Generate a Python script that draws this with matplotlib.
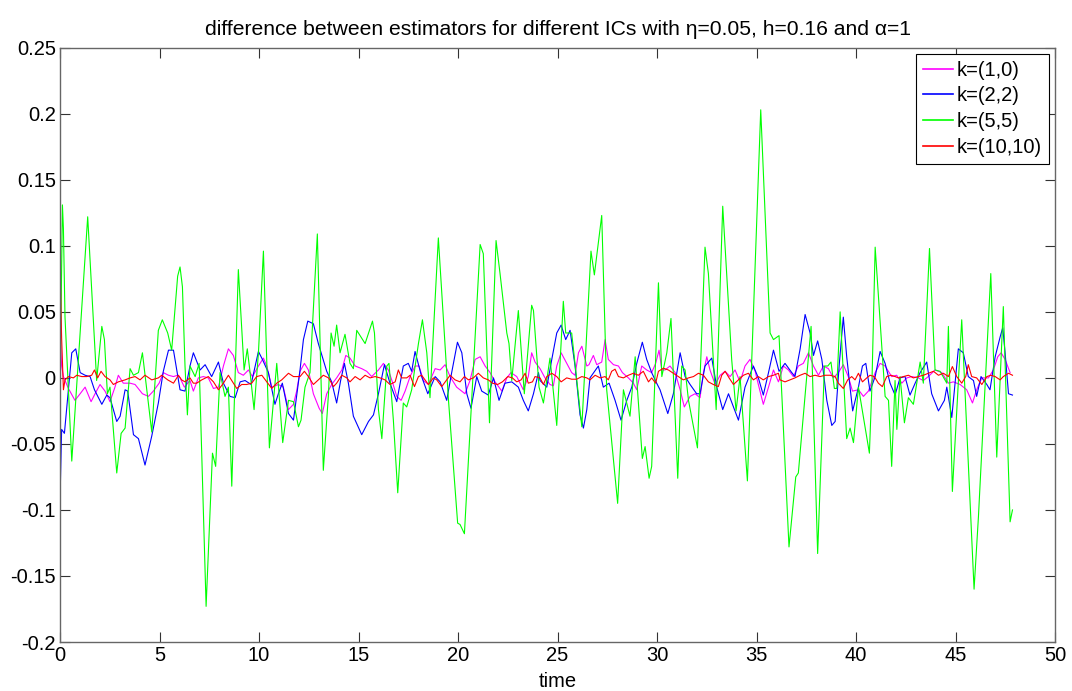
import matplotlib
matplotlib.use("Agg")
import matplotlib.pyplot as plt
from matplotlib.ticker import FixedLocator, FuncFormatter

plt.rcParams['font.family'] = ['Liberation Sans', 'DejaVu Sans']

# (time, difference) samples for each initial condition
k10_pts = [(0.0, 0.035), (0.08, 0.009), (0.17, 0.001), (0.42, -0.008), (0.75, -0.017), (1.01, -0.012),
           (1.26, -0.007), (1.56, -0.018), (1.76, -0.012), (2.01, -0.005), (2.26, -0.010), (2.51, -0.018),
           (2.76, -0.007), (2.93, 0.002), (3.18, -0.004), (3.52, -0.004), (3.77, -0.005), (4.14, -0.012),
           (4.44, -0.014), (4.69, -0.010), (4.98, -0.004), (5.19, 0.004), (5.45, 0.002), (5.70, 0.001),
           (5.91, 0.002), (6.03, 0.000), (6.25, -0.007), (6.53, -0.002), (6.70, -0.010), (6.95, 0.000),
           (7.20, 0.001), (7.45, 0.000), (7.71, -0.008), (7.96, -0.007), (8.21, 0.009), (8.46, 0.022),
           (8.71, 0.017), (8.96, 0.004), (9.21, 0.002), (9.47, 0.006), (9.67, 0.001), (9.97, 0.009),
           (10.22, 0.015), (10.39, 0.009), (10.64, -0.007), (10.97, -0.005), (11.22, -0.007), (11.48, -0.024),
           (11.73, -0.020), (11.89, -0.010), (12.06, 0.005), (12.28, 0.011), (12.48, 0.006), (12.73, -0.012),
           (13.02, -0.023), (13.18, -0.027), (13.40, -0.012), (13.65, -0.005), (13.90, 0.000), (14.16, 0.006),
           (14.36, 0.017), (14.57, 0.015), (14.83, 0.009), (15.16, 0.007), (15.41, 0.005), (15.66, 0.001),
           (16.00, 0.006), (16.25, 0.011), (16.50, 0.006), (16.72, -0.004), (16.92, -0.014), (17.14, -0.017),
           (17.34, -0.010), (17.59, 0.001), (17.84, 0.009), (18.04, 0.009), (18.26, -0.002), (18.51, -0.005),
           (18.85, 0.007), (19.10, 0.006), (19.35, 0.010), (19.60, 0.001), (19.93, -0.007), (20.35, -0.012),
           (20.60, -0.002), (20.86, 0.014), (21.11, 0.016), (21.36, 0.009), (21.61, 0.004), (21.86, -0.003),
           (22.20, -0.010), (22.45, 0.000), (22.66, 0.004), (22.95, 0.001), (23.28, -0.009), (23.53, 0.001),
           (23.70, 0.019), (23.87, 0.012), (24.12, 0.007), (24.37, 0.000), (24.62, -0.005), (24.79, -0.006),
           (24.96, 0.009), (25.18, 0.019), (25.46, 0.011), (25.71, 0.004), (25.88, 0.002), (26.05, 0.019),
           (26.22, 0.024), (26.47, 0.009), (26.58, 0.010), (26.80, 0.017), (26.97, 0.010), (27.22, 0.012),
           (27.39, 0.029), (27.55, 0.014), (27.81, 0.010), (28.06, 0.009), (28.26, 0.004), (28.56, 0.000),
           (28.81, -0.004), (28.98, -0.009), (29.23, 0.009), (29.48, 0.006), (29.73, 0.004), (29.93, 0.011),
           (30.10, 0.021), (30.24, 0.006), (30.40, 0.006), (30.65, 0.009), (30.91, 0.004), (31.16, -0.009),
           (31.37, -0.022), (31.66, -0.014), (31.91, -0.012), (32.16, -0.015), (32.33, 0.004), (32.50, 0.016),
           (32.66, 0.006), (32.92, -0.005), (33.17, 0.002), (33.42, 0.005), (33.67, 0.001), (33.92, 0.006),
           (34.17, -0.003), (34.42, 0.009), (34.67, 0.014), (34.93, 0.005), (35.09, -0.005), (35.34, -0.020),
           (35.60, -0.007), (35.85, 0.006), (36.10, -0.003), (36.35, 0.009), (36.60, 0.006), (36.85, 0.001),
           (37.10, 0.009), (37.35, 0.011), (37.61, 0.019), (37.86, 0.009), (38.11, 0.002), (38.36, 0.009),
           (38.61, 0.007), (38.86, 0.000), (39.11, 0.004), (39.36, 0.010), (39.61, 0.001), (39.82, -0.010),
           (40.12, -0.009), (40.37, -0.014), (40.62, -0.010), (40.96, 0.004), (41.21, 0.011), (41.46, 0.009),
           (41.79, 0.001), (42.04, 0.002), (42.30, -0.004), (42.55, 0.000), (42.80, 0.001), (43.13, 0.000),
           (43.38, -0.002), (43.63, 0.001), (43.97, 0.006), (44.31, 0.004), (44.64, -0.004), (44.89, -0.003),
           (45.23, -0.005), (45.56, -0.009), (45.85, -0.019), (46.06, -0.009), (46.32, 0.000), (46.65, 0.000),
           (46.90, 0.006), (47.12, 0.016), (47.29, 0.019), (47.49, 0.014), (47.74, 0.004)]

k22_pts = [(0.0, -0.092), (0.08, -0.039), (0.22, -0.042), (0.42, -0.009), (0.59, 0.019), (0.79, 0.022),
           (1.01, 0.004), (1.26, 0.002), (1.51, 0.001), (1.73, -0.009), (2.10, -0.020), (2.35, -0.013),
           (2.51, -0.015), (2.85, -0.033), (3.02, -0.029), (3.27, -0.009), (3.40, -0.010), (3.69, -0.043),
           (3.94, -0.046), (4.27, -0.066), (4.61, -0.044), (4.94, -0.019), (5.19, 0.005), (5.45, 0.021),
           (5.70, 0.021), (6.03, -0.009), (6.28, -0.010), (6.53, 0.009), (6.70, 0.019), (7.04, 0.006),
           (7.29, 0.010), (7.62, 0.001), (7.96, 0.012), (8.21, -0.004), (8.54, -0.014), (8.80, -0.015),
           (9.05, -0.003), (9.30, -0.002), (9.60, -0.005), (9.97, 0.020), (10.17, 0.014), (10.47, 0.004),
           (10.80, -0.020), (10.97, -0.012), (11.17, -0.004), (11.48, -0.027), (11.73, -0.032), (12.06, 0.006),
           (12.23, 0.029), (12.45, 0.043), (12.73, 0.041), (12.98, 0.026), (13.40, 0.005), (13.65, -0.003),
           (13.90, -0.019), (14.10, -0.002), (14.29, 0.011), (14.49, -0.004), (14.74, -0.029), (15.16, -0.043),
           (15.50, -0.033), (15.75, -0.028), (16.00, -0.012), (16.30, 0.010), (16.58, -0.004), (16.92, -0.018),
           (17.25, 0.009), (17.50, 0.011), (17.67, 0.005), (17.84, 0.020), (18.17, 0.001), (18.48, -0.012),
           (18.85, 0.001), (19.10, -0.003), (19.43, -0.017), (19.68, 0.004), (19.97, 0.027), (20.19, 0.019),
           (20.44, -0.012), (20.65, -0.023), (20.94, 0.001), (21.19, -0.010), (21.52, -0.013), (21.78, 0.000),
           (22.06, -0.017), (22.36, -0.004), (22.70, -0.003), (23.03, -0.007), (23.28, -0.017), (23.53, -0.025),
           (23.79, -0.012), (24.04, 0.004), (24.12, -0.002), (24.46, -0.007), (24.71, 0.014), (24.96, 0.034),
           (25.18, 0.040), (25.41, 0.029), (25.63, 0.036), (25.88, 0.009), (26.13, -0.028), (26.30, -0.038),
           (26.47, -0.024), (26.63, 0.000), (27.05, 0.009), (27.30, -0.007), (27.59, -0.004), (27.89, -0.017),
           (28.19, -0.032), (28.48, -0.017), (28.73, -0.007), (28.98, 0.011), (29.26, 0.027), (29.48, 0.014),
           (29.73, 0.004), (29.98, -0.004), (30.15, -0.009), (30.54, -0.027), (30.82, -0.012), (31.16, 0.019),
           (31.41, 0.001), (31.66, -0.005), (31.99, -0.012), (32.16, -0.012), (32.41, 0.009), (32.75, 0.015),
           (33.00, -0.007), (33.30, -0.024), (33.59, -0.012), (33.84, -0.022), (34.09, -0.032), (34.42, -0.007),
           (34.84, 0.009), (35.09, 0.000), (35.34, -0.013), (35.60, 0.004), (35.85, 0.021), (36.13, 0.005),
           (36.43, 0.011), (36.77, 0.004), (36.93, 0.001), (37.19, 0.022), (37.44, 0.048), (37.69, 0.034),
           (37.86, 0.017), (38.07, 0.028), (38.28, 0.014), (38.53, -0.017), (38.78, -0.036), (38.95, -0.033),
           (39.16, 0.011), (39.36, 0.046), (39.53, 0.016), (39.83, -0.025), (40.12, -0.007), (40.32, 0.009),
           (40.49, 0.011), (40.70, -0.010), (40.96, 0.001), (41.21, 0.020), (41.46, 0.011), (41.71, -0.004),
           (41.96, -0.013), (42.21, 0.000), (42.46, 0.001), (42.71, -0.013), (42.97, -0.004), (43.22, 0.004),
           (43.55, 0.012), (43.80, -0.012), (44.14, -0.025), (44.44, -0.017), (44.56, -0.007), (44.81, -0.030),
           (45.14, 0.022), (45.39, 0.019), (45.64, 0.001), (45.90, -0.002), (46.06, -0.014), (46.28, 0.001),
           (46.57, -0.005), (46.73, -0.009), (46.99, 0.016), (47.24, 0.031), (47.37, 0.038), (47.49, 0.019),
           (47.66, -0.012), (47.86, -0.013)]

k55_pts = [(0.0, -0.013), (0.12, 0.131), (0.17, 0.113), (0.25, 0.046), (0.59, -0.063), (1.39, 0.122),
           (1.84, -0.002), (2.10, 0.039), (2.23, 0.029), (2.38, -0.012), (2.51, -0.007), (2.85, -0.072),
           (3.07, -0.042), (3.27, -0.038), (3.52, 0.007), (3.69, 0.002), (3.94, 0.004), (4.14, 0.019),
           (4.61, -0.041), (4.94, 0.036), (5.14, 0.044), (5.41, 0.034), (5.61, 0.021), (5.91, 0.077),
           (6.03, 0.084), (6.15, 0.069), (6.28, 0.009), (6.40, -0.028), (6.53, 0.009), (6.79, 0.001),
           (6.99, 0.011), (7.34, -0.173), (7.66, -0.057), (7.82, -0.067), (8.04, 0.004), (8.29, -0.014),
           (8.46, -0.007), (8.63, -0.082), (8.96, 0.082), (9.25, 0.006), (9.41, 0.022), (9.55, 0.004),
           (9.75, -0.024), (9.97, 0.019), (10.22, 0.096), (10.52, -0.053), (10.89, 0.011), (11.19, -0.049),
           (11.48, -0.017), (11.73, -0.018), (11.98, -0.037), (12.11, -0.032), (12.31, -0.007), (12.56, 0.004),
           (12.93, 0.109), (13.23, -0.070), (13.49, -0.012), (13.62, 0.034), (13.77, 0.024), (13.90, 0.040),
           (14.07, 0.019), (14.32, 0.033), (14.57, 0.011), (14.74, 0.007), (14.91, 0.036), (15.33, 0.026),
           (15.70, 0.043), (15.80, 0.034), (16.00, -0.024), (16.17, -0.046), (16.42, 0.009), (16.53, 0.011),
           (16.75, -0.032), (16.97, -0.087), (17.25, -0.019), (17.42, -0.022), (17.67, -0.009), (18.01, 0.026),
           (18.21, 0.044), (18.43, 0.019), (18.59, -0.015), (18.76, 0.034), (19.01, 0.106), (19.52, -0.017),
           (19.98, -0.110), (20.10, -0.111), (20.32, -0.118), (21.11, 0.101), (21.27, 0.094), (21.58, -0.034),
           (21.91, 0.104), (22.11, 0.079), (22.45, 0.034), (22.56, 0.026), (22.70, -0.002), (23.03, 0.051),
           (23.33, -0.012), (23.70, 0.055), (23.79, 0.051), (24.07, -0.007), (24.29, -0.019), (24.62, 0.015),
           (24.96, -0.036), (25.29, 0.058), (25.41, 0.034), (25.71, 0.034), (26.22, -0.037), (26.68, 0.096),
           (26.85, 0.078), (27.22, 0.123), (27.47, -0.009), (28.02, -0.095), (28.31, -0.009), (28.64, -0.029),
           (28.90, 0.016), (29.26, -0.061), (29.40, -0.052), (29.60, -0.076), (29.73, -0.067), (30.07, 0.072),
           (30.24, 0.001), (30.49, 0.019), (30.70, 0.045), (31.04, -0.076), (31.24, 0.009), (31.41, 0.006),
           (31.58, -0.017), (32.03, -0.053), (32.41, 0.099), (32.58, 0.079), (32.97, -0.024), (33.30, 0.130),
           (33.75, 0.014), (33.97, -0.025), (34.17, 0.001), (34.54, -0.078), (35.21, 0.203), (35.68, 0.034),
           (35.85, 0.029), (36.13, 0.032), (36.63, -0.128), (36.97, -0.075), (37.10, -0.072), (37.74, 0.039),
           (38.07, -0.133), (38.41, 0.009), (38.58, 0.009), (38.74, 0.012), (38.91, -0.008), (39.03, -0.008),
           (39.20, 0.050), (39.53, -0.046), (39.70, -0.038), (39.87, -0.049), (40.12, -0.007), (40.67, -0.057),
           (40.79, -0.009), (40.96, 0.099), (41.46, -0.014), (41.63, -0.017), (41.79, -0.067), (41.96, -0.002),
           (42.05, -0.039), (42.21, 0.001), (42.43, -0.034), (42.63, -0.015), (42.88, -0.020), (43.22, 0.012),
           (43.38, -0.004), (43.69, 0.098), (43.97, 0.006), (44.22, 0.005), (44.56, -0.004), (44.64, 0.039),
           (44.84, -0.086), (45.31, 0.044), (45.93, -0.160), (46.15, -0.105), (46.77, 0.079), (47.07, -0.060),
           (47.40, 0.054), (47.74, -0.109), (47.86, -0.100)]

k1010_pts = [(0.0, 0.085), (0.08, 0.030), (0.17, -0.009), (0.25, -0.0015), (0.42, 0.001), (0.67, 0.000),
             (0.84, 0.002), (1.09, 0.001), (1.34, 0.001), (1.59, 0.002), (1.73, 0.006), (1.89, 0.000),
             (2.06, 0.005), (2.26, 0.001), (2.51, -0.0015), (2.68, -0.005), (2.93, -0.003), (3.27, -0.0015),
             (3.52, 0.000), (3.77, 0.001), (4.02, -0.0015), (4.27, 0.002), (4.61, -0.0015), (4.94, 0.000),
             (5.11, 0.002), (5.41, -0.0015), (5.70, -0.004), (5.95, 0.002), (6.11, -0.0015), (6.28, -0.003),
             (6.53, 0.000), (6.70, -0.004), (6.87, -0.004), (7.12, -0.0015), (7.45, 0.001), (7.71, -0.003),
             (7.96, -0.009), (8.21, -0.004), (8.46, 0.002), (8.71, -0.004), (8.88, -0.008), (9.13, -0.005),
             (9.38, -0.005), (9.63, -0.004), (9.88, 0.001), (10.14, 0.002), (10.39, -0.003), (10.64, -0.008),
             (10.89, -0.004), (11.14, -0.0015), (11.48, 0.0035), (11.73, 0.001), (12.06, 0.001), (12.28, 0.005),
             (12.48, 0.001), (12.73, -0.005), (12.98, -0.0015), (13.23, 0.002), (13.49, 0.000), (13.74, -0.0066),
             (13.90, -0.004), (14.16, 0.002), (14.41, 0.000), (14.57, -0.003), (14.83, 0.001), (15.08, -0.0015),
             (15.33, 0.002), (15.58, 0.000), (15.83, 0.001), (16.08, 0.000), (16.33, -0.0015), (16.58, -0.005),
             (16.84, -0.003), (17.00, 0.006), (17.17, 0.000), (17.42, 0.000), (17.59, 0.002), (17.81, -0.0066),
             (18.01, 0.001), (18.17, 0.002), (18.34, -0.0015), (18.51, -0.005), (18.76, 0.000), (18.93, -0.0015),
             (19.18, -0.0066), (19.43, -0.0015), (19.60, 0.002), (19.85, -0.0015), (20.10, -0.003), (20.32, 0.001),
             (20.52, -0.0015), (20.77, 0.000), (21.02, 0.0035), (21.27, 0.000), (21.52, -0.0015), (21.73, -0.004),
             (21.99, -0.005), (22.23, -0.003), (22.50, 0.001), (22.73, 0.000), (22.95, -0.003), (23.17, -0.0015),
             (23.37, 0.0035), (23.53, -0.004), (23.74, -0.003), (23.87, 0.001), (24.12, 0.000), (24.29, -0.005),
             (24.46, 0.001), (24.71, 0.0035), (24.96, 0.001), (25.18, -0.003), (25.46, 0.000), (25.71, -0.001),
             (25.96, -0.001), (26.22, 0.001), (26.47, 0.000), (26.63, -0.0015), (26.89, 0.002), (27.14, 0.000),
             (27.39, 0.001), (27.55, -0.0015), (27.72, 0.005), (27.89, 0.0066), (28.06, 0.001), (28.31, 0.000),
             (28.56, 0.002), (28.81, 0.0035), (29.06, 0.002), (29.31, 0.005), (29.57, -0.003), (29.73, 0.000),
             (29.93, -0.004), (30.07, 0.005), (30.32, 0.0073), (30.57, 0.006), (30.82, 0.0035), (31.07, 0.001),
             (31.32, -0.0015), (31.58, 0.000), (31.83, 0.001), (32.08, 0.0035), (32.33, 0.002), (32.58, -0.003),
             (32.83, -0.005), (33.08, -0.0066), (33.25, 0.002), (33.42, 0.005), (33.62, 0.000), (33.84, -0.005),
             (34.09, -0.0015), (34.34, 0.002), (34.59, 0.0035), (34.84, -0.0015), (35.09, 0.001), (35.34, -0.0015),
             (35.60, 0.001), (35.85, 0.002), (36.10, 0.0035), (36.18, -0.0015), (36.43, -0.003), (36.68, -0.0015),
             (36.93, 0.000), (37.19, 0.002), (37.44, 0.0035), (37.69, 0.001), (37.94, 0.002), (38.19, 0.001),
             (38.44, 0.002), (38.69, 0.002), (38.95, 0.001), (39.11, -0.004), (39.36, -0.008), (39.58, -0.0015),
             (39.78, 0.001), (39.95, -0.0015), (40.12, 0.0035), (40.32, -0.003), (40.54, 0.000), (40.70, 0.002),
             (40.92, 0.001), (41.12, -0.004), (41.32, -0.0066), (41.54, 0.001), (41.76, 0.002), (41.96, 0.001),
             (42.13, 0.000), (42.38, 0.001), (42.63, 0.002), (42.88, 0.000), (43.13, 0.001), (43.38, 0.002),
             (43.63, 0.0035), (43.89, 0.005), (44.14, 0.002), (44.39, 0.0035), (44.64, 0.001), (44.84, 0.0086),
             (45.06, 0.001), (45.31, -0.004), (45.51, 0.001), (45.64, 0.010), (45.81, 0.001), (46.06, 0.000),
             (46.32, -0.005), (46.57, 0.001), (46.78, 0.002), (46.99, 0.001), (47.24, -0.0015), (47.40, 0.001),
             (47.66, 0.0035), (47.86, 0.002)]

series_labels = ['k=(1,0)', 'k=(2,2)', 'k=(5,5)', 'k=(10,10)']
series_colors = ['#ff00ff', '#0000ff', '#00ff00', '#ff0000']

x_ticks = [0, 5, 10, 15, 20, 25, 30, 35, 40, 45, 50]
y_ticks = [-0.2, -0.15, -0.1, -0.05, 0, 0.05, 0.1, 0.15, 0.2, 0.25]

fig = plt.figure(figsize=(10.72, 6.91), dpi=100)
ax = fig.add_axes([0.0560, 0.0709, 0.9282, 0.8600])

for pts, lab, col in zip([k10_pts, k22_pts, k55_pts, k1010_pts], series_labels, series_colors):
    t = [p[0] for p in pts]
    v = [p[1] for p in pts]
    ax.plot(t, v, color=col, lw=0.8, label=lab)

ax.set_xlim(0, 50)
ax.set_ylim(-0.2, 0.25)
ax.xaxis.set_major_locator(FixedLocator(x_ticks))
ax.yaxis.set_major_locator(FixedLocator(y_ticks))
fmt = FuncFormatter(lambda val, pos: f"{round(val, 4):g}")
ax.xaxis.set_major_formatter(fmt)
ax.yaxis.set_major_formatter(fmt)
ax.tick_params(direction='in', top=True, right=True, length=7, width=0.8,
               labelsize=14.5, colors='#333333', labelcolor='black', pad=3)
for side in ax.spines.values():
    side.set_color('#666666')
    side.set_linewidth(1.0)

ax.set_xlabel('time', fontsize=14.5, labelpad=5)
ax.set_title('difference between estimators for different ICs with \u03b7=0.05, h=0.16 and \u03b1=1',
             fontsize=15.2, pad=9)

leg = ax.legend(loc='upper right', fontsize=14.5, frameon=True, fancybox=False,
                edgecolor='black', framealpha=1, handlelength=1.5, handletextpad=0.2,
                labelspacing=0.33, borderpad=0.35, borderaxespad=0.3)
leg.get_frame().set_linewidth(0.8)
for handle in leg.get_lines():
    handle.set_linewidth(1.2)

fig.savefig('out.png', dpi=100)
